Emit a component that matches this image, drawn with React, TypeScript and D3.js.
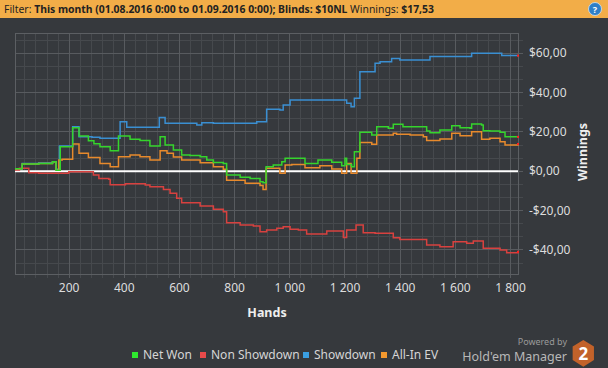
import React from 'react';
import * as d3 from 'd3';

// [hand, $] pairs
const netWon: [number, number][] = [
  [4, 1.3], [30, 3.7], [90, 4], [140, 4.8], [153, 0.5], [168, 12.5], [213, 22.2], [236, 18],
  [270, 15.5], [290, 14], [312, 12.5], [349, 10.5], [379, 18], [421, 16.3], [457, 15.6],
  [493, 12.9], [530, 17.6], [548, 13.4], [578, 10.8], [608, 8.3], [638, 8], [675, 7.4],
  [699, 5.7], [723, 4.5], [759, 4], [771, -1.9], [820, -3], [856, -3.6], [892, -5.3],
  [903, -5.8], [914, 2.3], [940, 3.2], [971, 4.9], [983, 6.6], [1007, 6.6], [1055, 4],
  [1102, 5.7], [1152, 4.6], [1188, 2.8], [1200, 6.6], [1206, 3.5], [1224, 2.3], [1234, 10],
  [1254, 19.8], [1297, 18.5], [1315, 22.7], [1357, 21.9], [1375, 23.9], [1410, 22.7],
  [1460, 22.7], [1496, 20.5], [1508, 19.6], [1544, 21], [1587, 23.2], [1617, 22.2],
  [1653, 21.9], [1659, 24], [1695, 23.5], [1701, 20.6], [1725, 20.5], [1762, 19.8],
  [1780, 17.6], [1810, 17.6], [1827, 17.5],
];

const nonShowdown: [number, number][] = [
  [4, 0.7], [20, 1.5], [54, -0.7], [90, -1], [149, -1], [199, -0.2], [271, -0.2], [288, -1.9],
  [308, -3.6], [344, -4.1], [349, -6.8], [404, -6.3], [476, -7], [493, -7.8], [542, -9.2],
  [566, -11.2], [590, -13.7], [608, -16], [675, -17.6], [723, -19.3], [759, -20.5],
  [771, -26.1], [820, -27.3], [868, -27.8], [892, -30.7], [916, -29.8], [953, -29],
  [976, -28.2], [1001, -29.5], [1031, -29.8], [1061, -31.9], [1134, -30.4], [1194, -33.6],
  [1206, -29.8], [1240, -27.3], [1266, -31.2], [1309, -31.5], [1375, -33.8], [1399, -34.6],
  [1496, -37.5], [1544, -38.3], [1592, -35.8], [1641, -36.6], [1665, -35.4], [1701, -39.1],
  [1762, -40], [1786, -41.4], [1827, -40.9],
];

const showdown: [number, number][] = [
  [4, 1.3], [30, 4], [90, 4.2], [140, 4.8], [153, 1], [165, 12.8], [213, 22.6], [236, 17.6],
  [283, 17.3], [312, 16.8], [352, 16.8], [385, 25.2], [409, 22.4], [527, 27.4], [548, 24.4],
  [663, 23.5], [681, 24.7], [723, 24.4], [880, 25.2], [916, 31.5], [964, 31.2], [976, 33.7],
  [1001, 36.2], [1200, 36.2], [1206, 34.6], [1222, 32.8], [1234, 37.1], [1254, 50.6],
  [1303, 50.6], [1309, 54.9], [1327, 55.7], [1369, 57.4], [1399, 56.6], [1508, 58.3],
  [1659, 60], [1768, 58.8], [1827, 58.8],
];

const allInEv: [number, number][] = [
  [4, 1.3], [30, 3.7], [90, 4], [140, 4.8], [153, 0.5], [163, 5.7], [175, 6.1], [213, 13.9],
  [236, 9.2], [270, 7], [312, 4], [349, 2.3], [379, 7.4], [421, 8.3], [457, 7.4], [493, 5.7],
  [530, 10.4], [555, 9.2], [578, 7.3], [608, 5.7], [675, 4.4], [723, 2.3], [759, 1],
  [771, -4.6], [838, -6.1], [892, -7.2], [903, -9.2], [914, 1.5], [964, -1], [983, 3.2],
  [1007, 3.5], [1055, 1.8], [1109, 2.8], [1152, 1.2], [1188, -1], [1206, 4], [1222, -1],
  [1243, 6.6], [1254, 14.7], [1297, 13.7], [1315, 18.5], [1375, 19.3], [1387, 18.8],
  [1436, 18.5], [1484, 17.6], [1496, 15.6], [1544, 16.4], [1587, 19.3], [1617, 18.1],
  [1659, 20.1], [1695, 16.3], [1725, 16.8], [1762, 15], [1780, 13.4], [1827, 13.9],
];

const xTicks = [200, 400, 600, 800, 1000, 1200, 1400, 1600, 1800];
const yTicks = [-40, -20, 0, 20, 40, 60];

const width = 608, height = 368;
const plot = { left: 15, right: 518, top: 33, bottom: 274 };
const font = '"Noto Sans", "Open Sans", sans-serif';

const series = [
  { name: 'Showdown', data: showdown, color: '#3a8fd2', key: '#3a9fe2' },
  { name: 'Non Showdown', data: nonShowdown, color: '#d8413f', key: '#e84a4a' },
  { name: 'All-In EV', data: allInEv, color: '#e88a2c', key: '#f3982e' },
  { name: 'Net Won', data: netWon, color: '#35d42c', key: '#2ee82e' },
];
const legendOrder = ['Net Won', 'Non Showdown', 'Showdown', 'All-In EV'];
const legendX = [132, 200, 303, 381];

const fmtMoney = (v: number) => (v < 0 ? '-' : '') + '$' + Math.abs(v).toFixed(2).replace('.', ',');
const fmtHands = (v: number) => (v >= 1000 ? `${Math.floor(v / 1000)} ${String(v % 1000).padStart(3, '0')}` : String(v));

export default function App() {
  const x = d3.scaleLinear().domain([4, 1827]).range([plot.left, plot.right]);
  const y = d3.scaleLinear().domain([-52.2, 70.3]).range([plot.bottom, plot.top]);

  const line = d3.line<[number, number]>()
    .x(d => x(d[0]))
    .y(d => y(d[1]))
    .curve(d3.curveStepAfter);

  // minor grid: every 40 hands, every $20/3
  const xMinor = d3.range(40, 1827, 40);
  const yMinor = d3.range(-60, 80, 20 / 3).filter(v => v > -52.2 && v < 70.3);

  // hexagon for the logo
  const hex = d3.range(6).map(i => {
    const a = Math.PI / 3 * i - Math.PI / 2;
    return [583.3 + 12.3 * Math.cos(a), 353.3 + 13.4 * Math.sin(a)];
  });

  return (
    <svg width={width} height={height} style={{ position: 'absolute', left: 0, top: 0, display: 'block' }}>
      <rect width={width} height={height} fill="#36393d" />

      {/* filter bar */}
      <rect width={width} height={18} fill="#f2ad48" />
      <text x={4} y={13} fontFamily={font} fontSize={10.4} fill="#222">
        <tspan>Filter: </tspan>
        <tspan fontWeight="bold">This month (01.08.2016 0:00 to 01.09.2016 0:00); Blinds: $10NL</tspan>
        <tspan> Winnings: </tspan>
        <tspan fontWeight="bold">$17,53</tspan>
      </text>
      <circle cx={595} cy={9} r={6.5} fill="#2e7fc8" stroke="#cfe3f5" strokeWidth={0.8} />
      <text x={595} y={12.5} textAnchor="middle" fontFamily={font} fontSize={9} fontWeight="bold" fill="#fff">?</text>

      {/* grid */}
      <g shapeRendering="crispEdges">
        {yMinor.map((v, i) => (
          <line key={'ym' + i} x1={plot.left} x2={plot.right + 5} y1={y(v)} y2={y(v)} stroke="#46494d" />
        ))}
        {xMinor.map(v => (
          <line key={'xm' + v} x1={x(v)} x2={x(v)} y1={plot.top} y2={plot.bottom + 4} stroke="#46494d" />
        ))}
        {yTicks.map(v => (
          <line key={'yM' + v} x1={plot.left} x2={plot.right + 5} y1={y(v)} y2={y(v)} stroke="#585b5f" />
        ))}
        {xTicks.map(v => (
          <line key={'xM' + v} x1={x(v)} x2={x(v)} y1={plot.top} y2={plot.bottom + 4} stroke="#585b5f" />
        ))}
        <rect x={plot.left} y={plot.top} width={plot.right - plot.left} height={plot.bottom - plot.top}
          fill="none" stroke="#5c5f63" />
      </g>

      {/* zero line */}
      <line x1={plot.left} x2={plot.right} y1={y(0)} y2={y(0)} stroke="#ffffff" strokeWidth={2} />

      {/* series */}
      {series.map(s => (
        <path key={s.name} d={line(s.data) || ''} fill="none" stroke={s.color} strokeWidth={1.5} />
      ))}
      {series.map(s => {
        const last = s.data[s.data.length - 1];
        return <rect key={'end' + s.name} x={x(last[0]) - 1} y={y(last[1]) - 1} width={2} height={2} fill="#ff2020" />;
      })}

      {/* axes labels */}
      {xTicks.map(v => (
        <text key={'xt' + v} x={x(v)} y={292} textAnchor="middle" fontFamily={font} fontSize={12} fill="#dddddd">
          {fmtHands(v)}
        </text>
      ))}
      {yTicks.map(v => (
        <text key={'yt' + v} x={529} y={y(v) + 4} fontFamily={font} fontSize={12} fill="#dddddd">
          {fmtMoney(v)}
        </text>
      ))}
      <text x={267} y={317} textAnchor="middle" fontFamily={font} fontSize={12.5} fontWeight="bold" fill="#eeeeee">Hands</text>
      <text transform="translate(587,152) rotate(-90)" textAnchor="middle" fontFamily={font} fontSize={12.5}
        fontWeight="bold" fill="#eeeeee">Winnings</text>

      {/* legend */}
      {legendOrder.map((name, i) => {
        const s = series.find(d => d.name === name)!;
        return (
          <g key={'lg' + name}>
            <rect x={legendX[i]} y={352} width={6} height={6} fill={s.key} />
            <text x={legendX[i] + 11} y={359} fontFamily={font} fontSize={12} fill="#d5d5d5">{name}</text>
          </g>
        );
      })}

      {/* branding */}
      <text x={567} y={345} textAnchor="end" fontFamily={font} fontSize={9} fill="#9a9a9a">Powered by</text>
      <text x={567} y={361} textAnchor="end" fontFamily={font} fontSize={12.5} fill="#b8b8b8">Hold'em Manager</text>
      <polygon points={hex.map(p => p.join(',')).join(' ')} fill="#c2622a" />
      <text x={583.3} y={360} textAnchor="middle" fontFamily={font} fontSize={17} fontWeight="bold" fill="#ffffff">2</text>
    </svg>
  );
}
